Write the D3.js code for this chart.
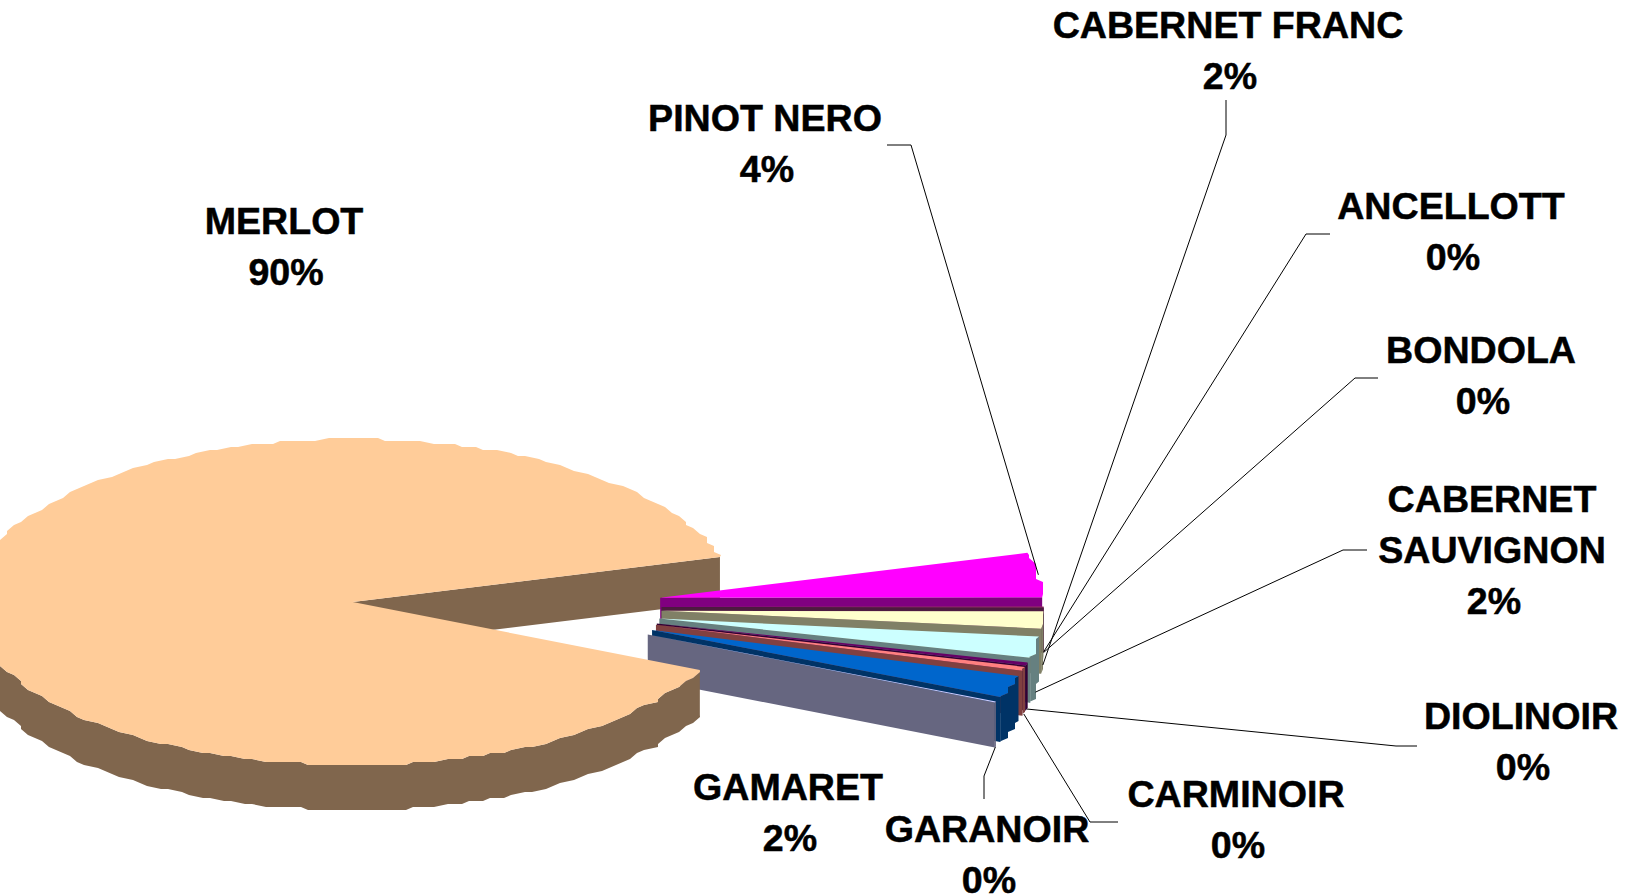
<!DOCTYPE html>
<html>
<head>
<meta charset="utf-8">
<script src="https://cdn.jsdelivr.net/npm/d3@7"></script>
<style>
html, body { margin: 0; padding: 0; background: #fff; }
svg { display: block; }
text { font-family: "Liberation Sans", Arial, sans-serif; font-weight: bold; font-size: 37.6px; fill: #000; stroke: #000; stroke-width: 0.5; text-anchor: middle; }
.leader { fill: none; stroke: #000; stroke-width: 1; }
</style>
</head>
<body>
<script>
const WIDTH = 1633;
const HEIGHT = 896;

// clockwise from the top of the pink slice, shares
var categories = ['PINOT NERO', 'ANCELLOTT', 'BONDOLA', 'CABERNET FRANC', 'CABERNET SAUVIGNON', 'DIOLINOIR', 'CARMINOIR', 'GAMARET', 'GARANOIR', 'MERLOT'];
var shares = [4.4, 0.05, 0.05, 1.7, 2.1, 0.3, 0.4, 2.2, 0.1, 88.7];
var percentLabels = ['4%', '0%', '0%', '2%', '2%', '0%', '0%', '2%', '0%', '90%'];
var topColors = ['#FF00FF', '#993366', '#993366', '#FFFFCC', '#CCFFFF', '#660066', '#FF8080', '#0066CC', '#CCCCFF', '#FFCC99'];
var sideColors = ['#800080', '#4D1A40', '#4D1A40', '#808066', '#668080', '#330033', '#804040', '#003366', '#666680', '#80664D'];

// label layout, one entry per category: centre of first line, then leader elbow points
var labelLayout = {
    'PINOT NERO': {x: 765, y: 118, leader: [[887, 145], [911, 145]]},
    'ANCELLOTT': {x: 1451, y: 206, leader: [[1330, 234], [1306, 234]]},
    'CABERNET FRANC': {x: 1228, y: 25, leader: [[1226, 100], [1226, 135]]},
    'BONDOLA': {x: 1481, y: 350, leader: [[1378, 378], [1355, 378]]},
    'CABERNET SAUVIGNON': {x: 1492, y: 499, leader: [[1367, 550], [1343, 550]]},
    'DIOLINOIR': {x: 1521, y: 716, leader: [[1417, 746], [1396, 746]]},
    'CARMINOIR': {x: 1236, y: 794, leader: [[1118, 822], [1090, 822]]},
    'GAMARET': {x: 788, y: 787, leader: null},
    'GARANOIR': {x: 987, y: 829, leader: [[984, 799], [984, 776]]},
    'MERLOT': {x: 284, y: 221, leader: null}
};

const CX = 507;
const CY = 607;
const RX = 382;
const RY = 163;
const DEPTH = 45;
const EXPLODE = 0.405;
const START = (90 - 16) * Math.PI / 180;
// the rim is drawn as a slightly rough outline
const FACET = 0.03;
const GRID_X = 7;
const GRID_Y = 3;

var pie = d3.pie().sort(null).startAngle(START).endAngle(START + 2 * Math.PI);
var arcs = pie(shares);

// screen angle, 0 = east, growing clockwise
var theta = function (a) { return a - Math.PI / 2; };

var apexOf = function (d) {
    var m = theta((d.startAngle + d.endAngle) / 2);
    return [CX + EXPLODE * RX * Math.cos(m), CY + EXPLODE * RY * Math.sin(m)];
};

var rim = function (apex, t, dy) {
    return [apex[0] + RX * Math.cos(t), apex[1] + RY * Math.sin(t) + (dy || 0)];
};

var arcPoints = function (apex, t0, t1, dy) {
    var pts = [rim(apex, t0, dy)];
    var k = Math.ceil(t0 / FACET + 1e-6);
    for (; k * FACET < t1; k++) {
        var p = rim(apex, k * FACET, 0);
        pts.push([Math.round(p[0] / GRID_X) * GRID_X, Math.round(p[1] / GRID_Y) * GRID_Y + dy]);
    }
    pts.push(rim(apex, t1, dy));
    return pts;
};

var line = d3.line();

var svg = d3.select('body').append('svg')
    .attr('width', WIDTH)
    .attr('height', HEIGHT);
svg.append('rect').attr('width', WIDTH).attr('height', HEIGHT).attr('fill', '#fff');

var drawEndWall = function (d, i) {
    var apex = apexOf(d);
    var t = theta(d.endAngle);
    var a = rim(apex, t);
    var b = rim(apex, t, DEPTH);
    svg.append('path')
        .attr('d', line([apex, a, b, [apex[0], apex[1] + DEPTH]]) + 'Z')
        .attr('fill', sideColors[i]);
};

var drawRimWall = function (d, i) {
    var apex = apexOf(d);
    var t0 = Math.max(theta(d.startAngle), 0);
    var t1 = Math.min(theta(d.endAngle), Math.PI);
    if (t1 <= t0) return;
    var pts = arcPoints(apex, t0, t1, 0).concat(arcPoints(apex, t0, t1, DEPTH).reverse());
    svg.append('path')
        .attr('d', line(pts) + 'Z')
        .attr('fill', sideColors[i]);
};

var drawTop = function (d, i) {
    var apex = apexOf(d);
    var pts = [apex].concat(arcPoints(apex, theta(d.startAngle), theta(d.endAngle), 0));
    svg.append('path')
        .attr('d', line(pts) + 'Z')
        .attr('fill', topColors[i]);
};

var last = arcs.length - 1;

// the big slice's cut wall sits behind everything else
drawEndWall(arcs[last], last);

arcs.slice(0, last).forEach(function (d, i) {
    drawEndWall(d, i);
    drawRimWall(d, i);
    drawTop(d, i);
});

drawRimWall(arcs[last], last);
drawTop(arcs[last], last);

// leaders run from the label elbow to the slice's outer edge
arcs.forEach(function (d, i) {
    var layout = labelLayout[categories[i]];
    if (!layout.leader) return;
    var m = theta((d.startAngle + d.endAngle) / 2);
    var end = rim(apexOf(d), m, m > -0.01 ? DEPTH : 0);
    svg.append('path')
        .attr('class', 'leader')
        .attr('d', line(layout.leader.concat([end])));
});

var wrapName = function (name) {
    return name === 'CABERNET SAUVIGNON' ? ['CABERNET', 'SAUVIGNON'] : [name];
};

arcs.forEach(function (d, i) {
    var layout = labelLayout[categories[i]];
    var names = wrapName(categories[i]);
    var text = svg.append('text');
    names.forEach(function (s, k) {
        text.append('tspan')
            .attr('x', layout.x)
            .attr('y', layout.y + 13 + k * 51)
            .text(s);
    });
    text.append('tspan')
        .attr('x', layout.x + 2)
        .attr('y', layout.y + 13 + names.length * 51)
        .text(percentLabels[i]);
});
</script>
</body>
</html>
